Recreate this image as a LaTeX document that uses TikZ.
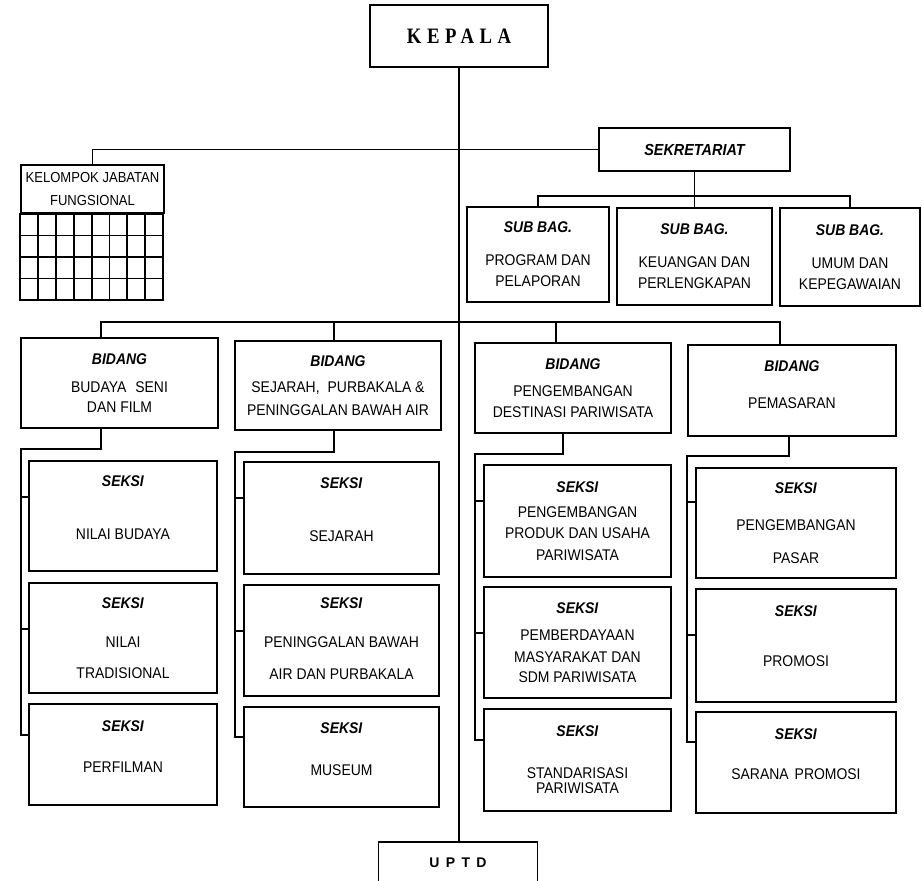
\documentclass[tikz,border=0pt]{standalone}
\usepackage{fontspec}
\setmainfont{Liberation Sans}[FakeStretch=0.9]
\newfontfamily\kepfont{Liberation Serif}[FakeStretch=0.85,LetterSpace=25]
\newfontfamily\uptdfont{Liberation Sans}[LetterSpace=45]
\newcommand{\bhead}[1]{\textbf{\textit{#1}}}
\newcommand{\dropby}[1]{\rule[-#1]{0pt}{0pt}}

\begin{document}
\begin{tikzpicture}[x=1pt, y=-1pt, line width=1.8pt,
    unit/.style={draw, align=center, inner sep=0pt, font=\fontsize{15.5}{21}\selectfont}
]
\useasboundingbox (0,0) rectangle (922,881);
\clip (0,0) rectangle (922,881);

\node[draw, minimum width=178, minimum height=62, font=\kepfont\bfseries\fontsize{22}{26}\selectfont] (kepala) at (459,36) {KEPALA};
\node[draw, minimum width=191, minimum height=43, font=\bfseries\itshape\fontsize{16}{19}\selectfont] (sekr) at (694.5,149.5) {SEKRETARIAT};
\node[draw, minimum width=143, minimum height=48, align=center, font=\fontsize{14.5}{23}\selectfont] (kjf) at (92.5,189) {KELOMPOK JABATAN\\FUNGSIONAL};
\draw[shift={(kjf.south west)}, xstep=17.875pt, ystep=21.5pt] (0,0) grid (143,86);
\draw (kjf.south west) rectangle ++(143,86);

% sub bagian
\node[unit, minimum width=142, minimum height=95] (pp) at (538,254.5) {\bhead{SUB BAG.}\\[12pt]PROGRAM DAN\\PELAPORAN};
\node[unit, minimum width=155, minimum height=97] (kp) at (694.5,256.5) {\bhead{SUB BAG.}\\[12pt]KEUANGAN DAN\\PERLENGKAPAN};
\node[unit, minimum width=140, minimum height=98] (kpg) at (850,257) {\bhead{SUB BAG.}\\[12pt]UMUM DAN\\KEPEGAWAIAN};

% bidang
\node[unit, minimum width=197, minimum height=90] (bsf) at (119.5,383) {\bhead{BIDANG}\\[7pt]BUDAYA\hspace{9pt}SENI\\[-1pt]DAN FILM};
\node[unit, minimum width=206, minimum height=89] (spb) at (338,385.5) {\bhead{BIDANG}\\[5pt]SEJARAH,\hspace{8pt}PURBAKALA \&\\[2pt]PENINGGALAN BAWAH AIR};
\node[unit, minimum width=196, minimum height=90] (pdp) at (573,388) {\bhead{BIDANG}\\[6pt]PENGEMBANGAN\\DESTINASI PARIWISATA};
\node[unit, minimum width=208, minimum height=91] (pms) at (792,390.5) {\bhead{BIDANG}\\[16pt]PEMASARAN\dropby{12pt}};

% seksi
\node[unit, minimum width=188, minimum height=110] (nb) at (123,516) {\bhead{SEKSI}\\[32pt]NILAI BUDAYA\dropby{17pt}};
\node[unit, minimum width=188, minimum height=110] (nt) at (123,638) {\bhead{SEKSI}\\[18pt]NILAI\\[10pt]TRADISIONAL};
\node[unit, minimum width=188, minimum height=101] (pf) at (123,754.5) {\bhead{SEKSI}\\[20pt]PERFILMAN\dropby{16pt}};

\node[unit, minimum width=195, minimum height=112] (sj) at (341.5,518) {\bhead{SEKSI}\\[32pt]SEJARAH\dropby{17pt}};
\node[unit, minimum width=195, minimum height=111] (pba) at (341.5,640.5) {\bhead{SEKSI}\\[18pt]PENINGGALAN BAWAH\\[11pt]AIR DAN PURBAKALA\dropby{4pt}};
\node[unit, minimum width=195, minimum height=100] (mus) at (341.5,757) {\bhead{SEKSI}\\[21pt]MUSEUM\dropby{16pt}};

\node[unit, minimum width=187, minimum height=112] (ppu) at (577.5,521) {\bhead{SEKSI}\\[4pt]PENGEMBANGAN\\PRODUK DAN USAHA\\[1pt]PARIWISATA};
\node[unit, minimum width=187, minimum height=111] (pmsdm) at (577.5,642.5) {\bhead{SEKSI}\\[6pt]PEMBERDAYAAN\\[1pt]MASYARAKAT DAN\\[-1pt]SDM PARIWISATA};
\node[unit, minimum width=187, minimum height=102] (std) at (577.5,760) {\bhead{SEKSI}\\[21pt]STANDARISASI\\[-6pt]PARIWISATA};

\node[unit, minimum width=200, minimum height=110] (pps) at (796,523) {\bhead{SEKSI}\\[16pt]PENGEMBANGAN\\[12pt]PASAR};
\node[unit, minimum width=200, minimum height=113] (prm) at (796,645.5) {\bhead{SEKSI}\\[29pt]PROMOSI\dropby{19pt}};
\node[unit, minimum width=200, minimum height=101] (srp) at (796,762.5) {\bhead{SEKSI}\\[19pt]SARANA\hspace{6pt}PROMOSI\dropby{17pt}};

\node[draw, minimum width=159, minimum height=42, font=\uptdfont\bfseries\fontsize{14}{17}\selectfont] (uptd) at (458,863) {UPTD};

% lines
\draw (kepala.south) -- (kepala.south |- uptd.north);
\draw (kjf.north) |- (sekr.west);
\draw (sekr.south) -- (kp.north);
\draw (pp.north) -- ++(0,-10) -| (kpg.north);

\draw ([xshift=-18.5pt]bsf.north) -- ++(0,-15) -| ([xshift=-12pt]pms.north);
\draw ([xshift=-4pt]spb.north) -- ++(0,-18);
\draw ([xshift=-17pt]pdp.north) -- ++(0,-20);

\draw ([xshift=-18.5pt]bsf.south) -- ++(0,20) -| ([xshift=-7pt,yshift=19.5pt]pf.west) -- ([yshift=19.5pt]pf.west);
\draw ([yshift=19pt]nb.west) -- ++(-7,0);
\draw ([yshift=9pt]nt.west) -- ++(-7,0);

\draw ([xshift=-4pt]spb.south) -- ++(0,21) -| ([xshift=-8pt,yshift=20pt]mus.west) -- ([yshift=20pt]mus.west);
\draw ([yshift=20pt]sj.west) -- ++(-8,0);
\draw ([yshift=9.5pt]pba.west) -- ++(-8,0);

\draw ([xshift=-10pt]pdp.south) -- ++(0,20) -| ([xshift=-8pt,yshift=20pt]std.west) -- ([yshift=20pt]std.west);
\draw ([yshift=20pt]ppu.west) -- ++(-8,0);
\draw ([yshift=9.5pt]pmsdm.west) -- ++(-8,0);

\draw ([xshift=-3pt]pms.south) -- ++(0,19) -| ([xshift=-8pt,yshift=20.5pt]srp.west) -- ([yshift=20.5pt]srp.west);
\draw ([yshift=21pt]pps.west) -- ++(-8,0);
\draw ([yshift=10.5pt]prm.west) -- ++(-8,0);
\end{tikzpicture}
\end{document}
